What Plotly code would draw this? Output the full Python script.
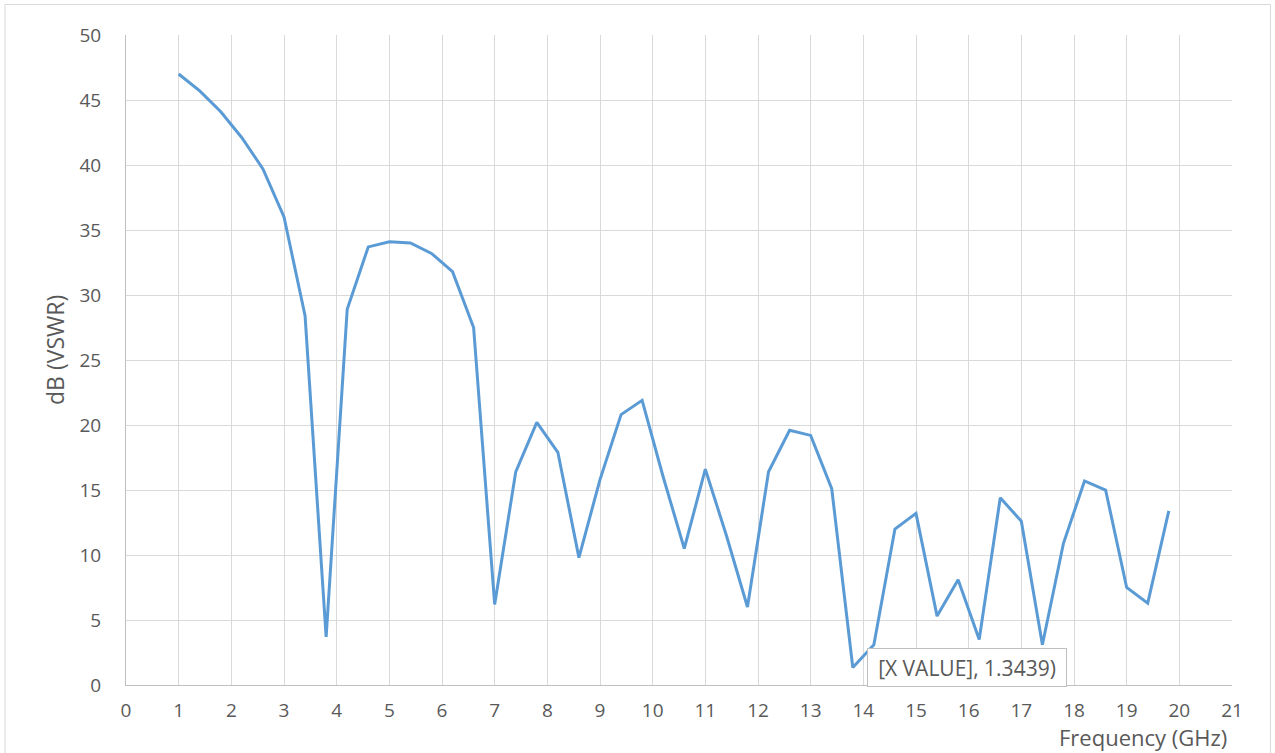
import plotly.graph_objects as go

# Frequency sweep (GHz) and measured level in dB
freq_ghz = [1.0, 1.4, 1.8, 2.2, 2.6, 3.0, 3.4, 3.8, 4.2, 4.6, 5.0, 5.4, 5.8, 6.2, 6.6,
            7.0, 7.4, 7.8, 8.2, 8.6, 9.0, 9.4, 9.8, 10.2, 10.6, 11.0, 11.4, 11.8,
            12.2, 12.6, 13.0, 13.4, 13.8, 14.2, 14.6, 15.0, 15.4, 15.8, 16.2, 16.6,
            17.0, 17.4, 17.8, 18.2, 18.6, 19.0, 19.4, 19.8]
vswr_db = [47.0, 45.7, 44.1, 42.1, 39.7, 36.0, 28.4, 3.7, 28.9, 33.7, 34.1, 34.0, 33.2,
           31.8, 27.5, 6.2, 16.4, 20.2, 17.9, 9.8, 15.8, 20.8, 21.9, 16.0, 10.5, 16.6,
           11.5, 6.0, 16.4, 19.6, 19.2, 15.1, 1.3439, 3.1, 12.0, 13.2, 5.3, 8.1, 3.5,
           14.4, 12.6, 3.1, 10.9, 15.7, 15.0, 7.5, 6.3, 13.4]

x_ticks = list(range(0, 22))
y_ticks = list(range(0, 51, 5))

# Point that carries the data label
label_idx = 32
label_text = "[X VALUE], 1.3439)"

W, H = 1275, 753
L, R, T, B = 126, 43, 35, 68
pw, ph = W - L - R, H - T - B

def px_to_paper_x(px):
    return (px - L) / pw

def px_to_paper_y(py):
    return (H - B - py) / ph

font_family = "Open Sans, Liberation Sans, sans-serif"
text_col = "#595959"
grid_col = "#d9d9d9"

fig = go.Figure()
fig.add_trace(go.Scatter(
    x=freq_ghz, y=vswr_db, mode="lines",
    line=dict(color="#5b9bd5", width=3),
    showlegend=False, hoverinfo="x+y",
))

fig.add_annotation(
    x=freq_ghz[label_idx], y=vswr_db[label_idx], xref="x", yref="y",
    text=label_text, showarrow=False, xanchor="left", yanchor="middle",
    xshift=14, width=188, height=27, align="center",
    font=dict(family=font_family, size=21, color=text_col),
    bgcolor="white", bordercolor="#bfbfbf", borderwidth=1, borderpad=5,
)

# Axis titles
fig.add_annotation(
    x=px_to_paper_x(55), y=px_to_paper_y(350), xref="paper", yref="paper",
    text="dB (VSWR)", textangle=-90, showarrow=False,
    xanchor="center", yanchor="middle",
    font=dict(family=font_family, size=23, color=text_col),
)
fig.add_annotation(
    x=px_to_paper_x(1228), y=px_to_paper_y(737), xref="paper", yref="paper",
    text="Frequency (GHz)", showarrow=False,
    xanchor="right", yanchor="middle", borderpad=0,
    font=dict(family=font_family, size=22, color=text_col),
)

# Chart-area border
fig.add_shape(
    type="rect", xref="paper", yref="paper",
    x0=px_to_paper_x(5), x1=px_to_paper_x(1270.5),
    y0=px_to_paper_y(770), y1=px_to_paper_y(4.5),
    line=dict(color="#d9d9d9", width=1), fillcolor="rgba(0,0,0,0)", layer="below",
)

fig.update_xaxes(
    range=[0, 21], tickmode="array", tickvals=x_ticks,
    showgrid=True, gridcolor=grid_col, gridwidth=1,
    showline=True, linecolor="#bfbfbf", linewidth=1,
    zeroline=False, ticks="", ticklabelstandoff=8,
    tickfont=dict(family=font_family, size=19, color=text_col),
)
fig.update_yaxes(
    range=[0, 50], tickmode="array", tickvals=y_ticks,
    showgrid=True, gridcolor=grid_col, gridwidth=1,
    showline=True, linecolor="#bfbfbf", linewidth=1,
    zeroline=False, ticks="", ticklabelstandoff=20,
    tickfont=dict(family=font_family, size=19, color=text_col),
)

fig.update_layout(
    width=W, height=H,
    margin=dict(l=L, r=R, t=T, b=B),
    paper_bgcolor="white", plot_bgcolor="white",
)

fig.write_html("out.html")
